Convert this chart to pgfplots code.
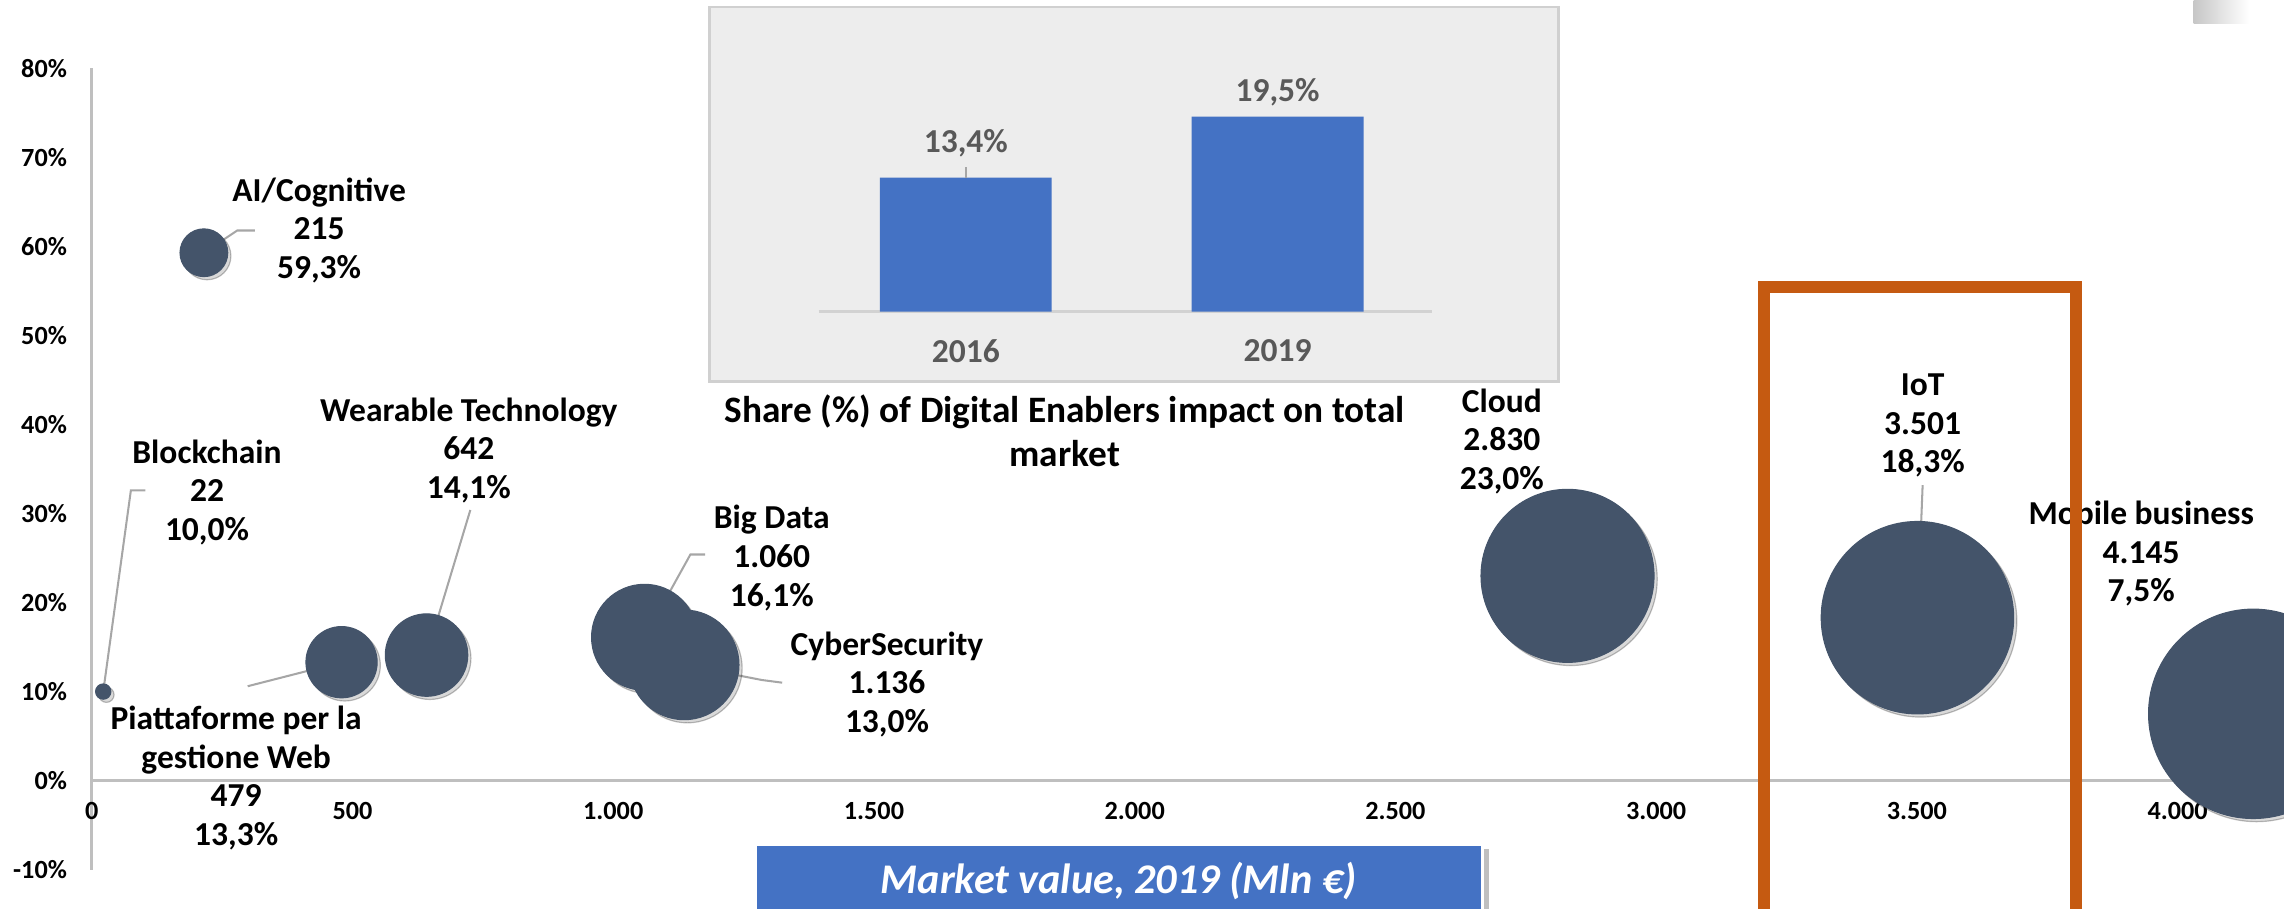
\documentclass[border=0pt]{standalone}
\usepackage{fontspec}
\setmainfont{Carlito}
\usepackage{pgfplots}
\pgfplotsset{compat=1.18}
\usepackage{pgfplotstable}

\definecolor{bubble}{HTML}{44546A}
\definecolor{barblue}{HTML}{4472C4}
\definecolor{boxorange}{HTML}{C55A11}
\definecolor{axisgray}{HTML}{BFBFBF}
\definecolor{panelgray}{HTML}{EDEDED}
\definecolor{panelline}{HTML}{D0D0D0}
\definecolor{labelgray}{HTML}{595959}
\definecolor{leader}{HTML}{A6A6A6}

% market value 2019 (Mln EUR), share of digital enablers (%)
\pgfplotstableread{
x    y
22   10.0
215  59.3
479  13.3
642  14.1
1060 16.1
1136 13.0
2830 23.0
3501 18.3
4145 7.5
}\enablers

% share of digital enablers impact on total market
\pgfplotstableread{
x y    dy
0 13.4 3.5
1 19.5 0
}\share

\begin{document}
\begin{tikzpicture}[
  lab/.style={align=center, inner sep=0pt, font=\fontsize{11.5}{13.25}\selectfont\bfseries},
  lead/.style={draw=leader, line width=0.7pt}]
\useasboundingbox (0,0) rectangle (784pt,312pt);
\clip (0,0) rectangle (784pt,312pt);

% corner shade
\shade[left color=black!22, right color=white] (753pt,304pt) rectangle (772pt,312pt);

% inset panel
\fill[panelgray] (243.5pt,181pt) rectangle (535pt,309.5pt);
\draw[panelline, line width=0.8pt] (243.5pt,181pt) rectangle (535pt,309.5pt);

\begin{axis}[
  at={(281pt,205pt)}, anchor=south west,
  scale only axis, width=210.5pt, height=97pt,
  xmin=-0.472, xmax=1.495, ymin=0, ymax=28.24,
  ybar, bar width=59pt,
  axis x line=bottom, axis y line=none,
  axis line style={-, draw=axisgray!70, line width=1pt},
  xtick={0,1}, xticklabels={2016,2019},
  major tick length=0pt,
  xticklabel style={font=\fontsize{11.5}{13}\selectfont\bfseries, text=labelgray, yshift=-6pt},
  visualization depends on={\thisrow{dy} \as \dy},
  nodes near coords={\pgfmathprintnumber[fixed,fixed zerofill,precision=1,use comma,assume math mode=true]{\pgfplotspointmeta}\%},
  every node near coord/.append style={font=\fontsize{11.5}{13}\selectfont\bfseries, text=labelgray, yshift=\dy pt},
  clip=false,
]
\addplot[fill=barblue, draw=none] table[x=x,y=y] \share;
\draw[leader, line width=0.6pt] (axis cs:0,13.4) -- ([yshift=3.5pt]axis cs:0,13.4);
\end{axis}

\node[align=center, font=\fontsize{12.8}{15}\selectfont\bfseries] at (365.5pt,164pt)
  {Share (\%) of Digital Enablers impact on total\\market};

\begin{axis}[
  at={(31.5pt,13.5pt)}, anchor=south west,
  scale only axis, width=752.5pt, height=275pt,
  xmin=0, xmax=4204, ymin=-10, ymax=80,
  axis x line=middle, axis y line=left,
  axis line style={-, draw=axisgray, line width=1pt},
  hide obscured x ticks=false, hide obscured y ticks=false,
  xtick={0,500,...,4000},
  xticklabels={0,500,1.000,1.500,2.000,2.500,3.000,3.500,4.000},
  ytick={-10,0,...,80},
  yticklabels={-10\%,0\%,10\%,20\%,30\%,40\%,50\%,60\%,70\%,80\%},
  major tick length=0pt,
  tick label style={font=\fontsize{9}{10}\selectfont\bfseries},
  xticklabel style={yshift=-4pt},
  yticklabel style={xshift=-5pt},
  clip=false,
]
% shadow
\addplot[scatter, only marks, mark=*, opacity=0.25,
  scatter/use mapped color={draw=none, fill=black!60},
  visualization depends on={0.558*sqrt(\thisrow{x}) \as \rad},
  scatter/@pre marker code/.append style={/tikz/mark size=\rad, /tikz/xshift=1.1pt, /tikz/yshift=-1.1pt}]
  table[x=x,y=y] \enablers;
% bubbles
\addplot[scatter, only marks, mark=*,
  scatter/use mapped color={draw=bubble, fill=bubble},
  visualization depends on={0.558*sqrt(\thisrow{x}) \as \rad},
  scatter/@pre marker code/.append style={/tikz/mark size=\rad}]
  table[x=x,y=y] \enablers;

% leader lines
\draw[lead] (axis cs:215,59.3) -- (axis cs:279,61.8) -- (axis cs:313,61.8);
\draw[lead] (axis cs:22,10) -- (axis cs:75,32.6) -- (axis cs:103,32.6);
\draw[lead] (axis cs:642,14.1) -- (axis cs:726,30.4);
\draw[lead] (axis cs:479,13.3) -- (axis cs:299,10.6);
\draw[lead] (axis cs:1060,16.1) -- (axis cs:1148,25.4) -- (axis cs:1176,25.4);
\draw[lead] (axis cs:1136,13.0) -- (axis cs:1285,11.3) -- (axis cs:1324,11.0);
\draw[lead] (axis cs:3501,18.3) -- (axis cs:3511,33.2);

% data labels
\node[lab] at (axis cs:436,61.8) {AI/Cognitive\\215\\59,3\%};
\node[lab] at (axis cs:221,32.4) {Blockchain\\22\\10,0\%};
\node[lab] at (axis cs:723,37.1) {Wearable Technology\\642\\14,1\%};
\node[lab] at (axis cs:277,0.3) {Piattaforme per la\\gestione Web\\479\\13,3\%};
\node[lab] at (axis cs:1304,25.0) {Big Data\\1.060\\16,1\%};
\node[lab] at (axis cs:1525,10.8) {CyberSecurity\\1.136\\13,0\%};
\node[lab] at (axis cs:2704,38.1) {Cloud\\2.830\\23,0\%};
\node[lab] at (axis cs:3511,39.9) {IoT\\3.501\\18,3\%};
\node[lab] at (axis cs:3930,25.5) {Mobile business\\4.145\\7,5\%};
\end{axis}

% highlight box
\draw[boxorange, line width=4pt] (605.5pt,-10pt) rectangle (712.5pt,213.5pt);

% axis title box
\fill[black!25] (509.5pt,-5pt) rectangle (511pt,20.5pt);
\fill[barblue] (260pt,-5pt) rectangle (508.5pt,21.5pt);
\node[text=white, font=\fontsize{14.5}{16}\selectfont\bfseries\itshape] at (384pt,9.5pt)
  {Market value, 2019 (Mln €)};
\end{tikzpicture}
\end{document}
